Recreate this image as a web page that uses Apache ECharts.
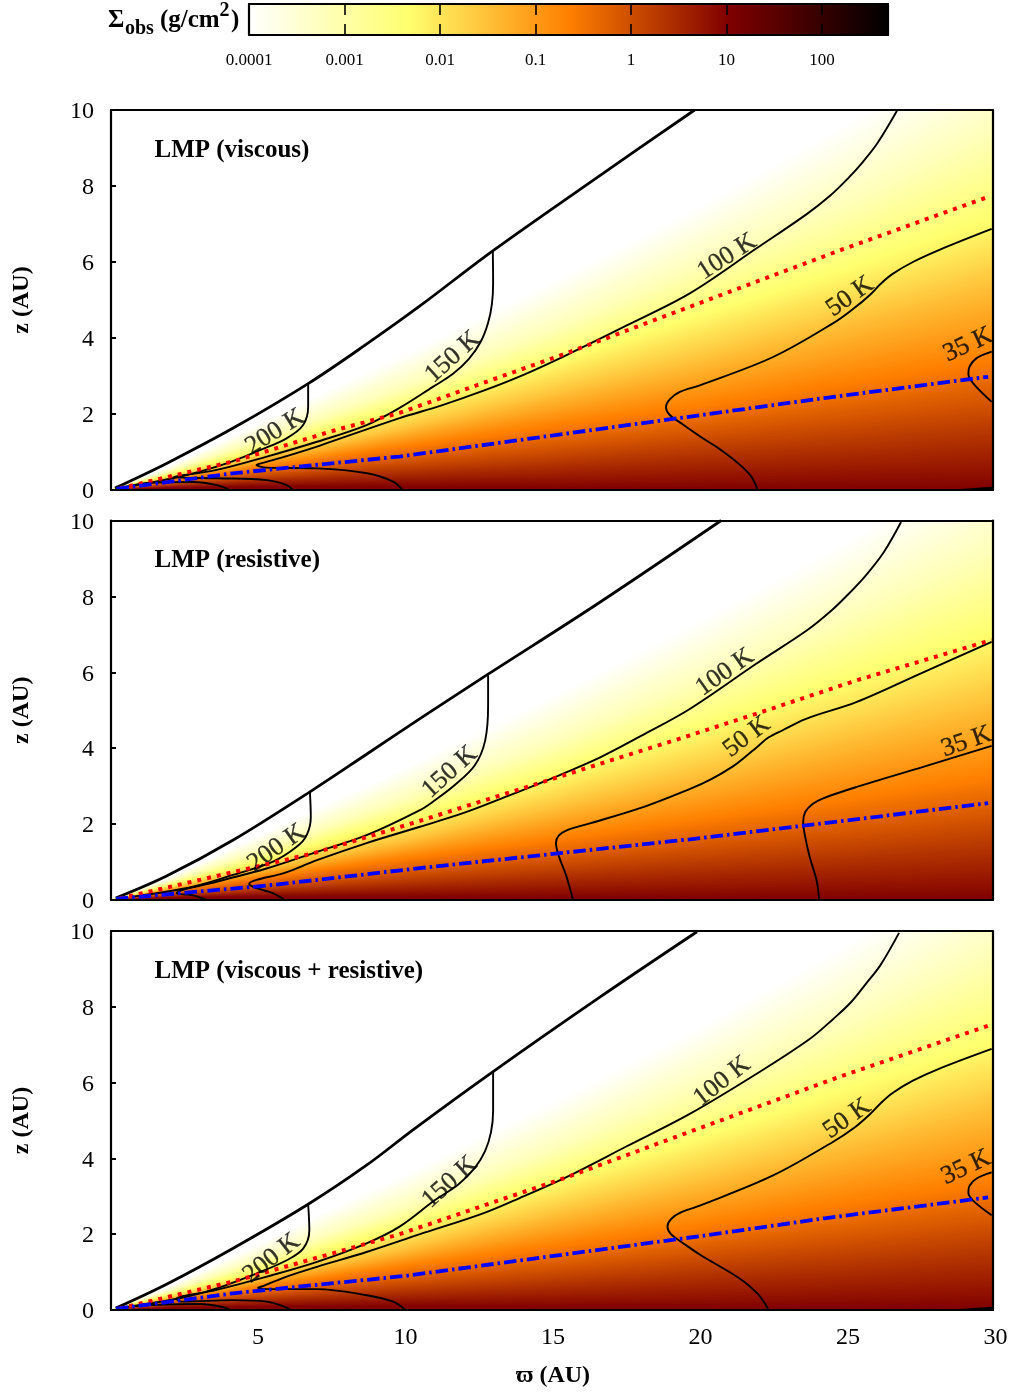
<!DOCTYPE html>
<html><head><meta charset="utf-8">
<style>html,body{margin:0;padding:0;background:#fff}#c{width:1013px;height:1393px}</style>
<script src="https://cdn.jsdelivr.net/npm/echarts@6/dist/echarts.min.js"></script>
</head><body><div id="c"></div>
<script>
// ---------- colour scale ----------
const paletteLogs = [-4, -2.3275, -0.655, 1.0175, 2.69];
const paletteRGB = [[255,255,255],[255,255,110],[255,128,0],[128,0,0],[0,0,0]];
const cbTickLogs = [-4,-3,-2,-1,0,1,2];
const cbTickLabels = ['0.0001','0.001','0.01','0.1','1','10','100'];
// ---------- iso-density curves: z (AU) at isoX, one row per log10(Sigma) ----------
const isoX = [0, 2, 5, 10, 15, 20, 25, 30];
const isoLogs = [-4, -3.16, -2.33, -1.49, -0.655, 0.18, 1.02];
const isoP1 = [
 [0,.62,1.75,3.6,5.5,7.5,9.7,12.0],
 [0,.48,1.3,2.7,4.2,5.9,7.5,9.4],
 [0,.4,1.05,2.2,3.4,4.65,5.85,7.2],
 [0,.3,.8,1.6,2.5,3.4,4.4,5.4],
 [0,.25,.6,1.15,1.7,2.25,2.85,3.5],
 [0,.14,.32,.6,.85,1.15,1.45,1.8],
 [0,.05,.08,.08,.05,.03,.02,.01]];
const isoP2 = [
 [0,.6,1.7,3.5,5.4,7.4,9.5,11.8],
 [0,.47,1.27,2.65,4.1,5.75,7.4,9.2],
 [0,.39,1.02,2.15,3.3,4.55,5.8,7.1],
 [0,.29,.78,1.55,2.4,3.3,4.25,5.2],
 [0,.24,.58,1.1,1.6,2.15,2.7,3.3],
 [0,.13,.3,.55,.8,1.08,1.35,1.7],
 [0,.05,.08,.07,.05,.03,.02,.01]];
const isoP3 = [
 [0,.62,1.75,3.6,5.5,7.5,9.7,12.0],
 [0,.48,1.3,2.7,4.2,5.9,7.5,9.4],
 [0,.4,1.05,2.2,3.4,4.6,5.85,7.15],
 [0,.3,.8,1.6,2.5,3.4,4.35,5.35],
 [0,.25,.6,1.15,1.7,2.25,2.85,3.45],
 [0,.14,.32,.6,.85,1.15,1.45,1.8],
 [0,.05,.08,.08,.05,.03,.02,.01]];
// ---------- panel 1 lines ----------
const surfP1 = [[.15,.05],[1.9,.7],[4.16,1.63],[6.7,2.8],[8.7,3.85],[10.5,4.85],[12.97,6.3],[16.6,8.28],[19.8,10]];
const redP1 = [[.3,.04],[4.15,.75],[7.55,1.56],[9.8,2.03],[15.46,3.6],[19.8,4.87],[24.7,6.3],[29.7,7.7]];
const blueP1 = [[.2,.03],[4.15,.44],[9.8,.88],[20,1.97],[24.2,2.42],[29.75,2.98]];
const t200P1 = [[6.7,2.8],[6.7,2.19],[6.53,1.71],[5.97,1.36],[5.07,1.05],[3.94,.7],[2.35,.35],[.19,.04]];
const t200bP1 = [[.77,.13],[1.34,.19],[2.8,.21],[3.6,.13],[4.05,0]];
const t150P1 = [[12.96,6.3],[12.97,5.44],[12.93,4.9],[12.8,4.4],[12.55,3.9],[12.15,3.45],[11.6,3.05],[10.94,2.72],[9.8,2.16],[8.68,1.71],[7,1.27],[5.3,.88],[3.6,.53],[2.12,.34],[3.6,.31],[5.3,.26],[5.97,.13],[6.18,0]];
const t100P1 = [[26.66,9.98],[26,9.13],[25.5,8.63],[25,8.2],[24.4,7.75],[23.6,7.26],[21.9,6.36],[19.65,5.18],[17.5,4.33],[15.46,3.55],[14,3.03],[12.6,2.6],[11.2,2.22],[9.8,1.89],[7.1,1.17],[6,.9],[5.2,.72],[4.95,.66],[5.3,.59],[7,.57],[8.7,.44],[9.58,.22],[9.9,0]];
const t50P1 = [[29.87,6.87],[28.1,6.32],[27.2,6],[26.5,5.68],[26.1,5.42],[25.75,5.14],[25.2,4.78],[24.5,4.39],[22.46,3.5],[20,2.76],[19.3,2.58],[18.95,2.38],[18.83,2.18],[18.95,1.98],[19.3,1.78],[20,1.4],[20.55,1.13],[21.25,.72],[21.7,.38],[21.88,.12],[21.92,0]];
const t35P1 = [[29.87,3.64],[29.36,3.47],[29.12,3.25],[29.08,3.05],[29.25,2.8],[29.87,2.32]];
const t35bP1 = [[28.8,0],[29.9,.06]];
const labP1 = [['200 K',5.58,1.53,32],['150 K',11.6,3.5,42],['100 K',20.9,6.14,33],['50 K',25.07,5.09,35],['35 K',29.07,3.82,25]];
// ---------- panel 2 lines ----------
const surfP2 = [[.18,.05],[1.9,.63],[4.16,1.58],[6.76,2.85],[8.68,3.84],[10.49,4.78],[12.8,5.95],[16.5,7.8],[20.7,10]];
const redP2 = [[.3,.04],[3.03,.53],[6.88,1.23],[10.26,2.03],[19.65,4.34],[21.9,4.91],[25.3,5.79],[29.87,6.85]];
const blueP2 = [[.18,.03],[5.3,.38],[10.49,.84],[19.65,1.6],[23.5,1.96],[29.75,2.55]];
const t200P2 = [[6.76,2.85],[6.79,2.19],[6.65,1.71],[6.31,1.4],[5.51,1.01],[4.15,.66],[2.8,.35],[.77,.09]];
const t150P2 = [[12.8,5.92],[12.8,5.13],[12.7,4.2],[12.35,3.55],[11.67,3.03],[11,2.63],[10.49,2.37],[8.68,1.71],[7,1.27],[5.29,.83],[3.6,.48],[2.24,.18],[2.8,.12],[3.26,0]];
const t100P2 = [[26.8,9.96],[26.2,9.15],[25.6,8.55],[25,8.05],[24.4,7.6],[23.6,7.1],[21.9,6.23],[19.65,5.04],[18,4.33],[16.6,3.76],[15,3.22],[13.5,2.75],[12,2.3],[10.49,1.93],[8.68,1.5],[7,1.05],[5.85,.7],[4.95,.53],[4.7,.42],[4.95,.31],[5.5,.18],[5.9,0]];
const t50P2 = [[29.87,6.8],[27.55,6],[25.3,5.22],[23.6,4.78],[22.8,4.48],[22.3,4.28],[21.9,4.02],[21.5,3.76],[21.1,3.52],[20.4,3.2],[19.65,2.93],[17.95,2.42],[16.25,2.02],[15.5,1.85],[15.2,1.7],[15.1,1.5],[15.2,1.15],[15.44,.66],[15.68,0]];
const t35P2 = [[29.87,4.06],[27.55,3.51],[25.3,2.98],[24.16,2.68],[23.8,2.53],[23.55,2.32],[23.48,2.05],[23.54,1.7],[23.7,1.14],[23.94,.5],[24.02,0]];
const labP2 = [['200 K',5.63,1.37,35],['150 K',11.5,3.37,42],['100 K',20.83,6,35],['50 K',21.57,4.3,37],['35 K',29.02,4.17,19]];
// ---------- panel 3 lines ----------
const surfP3 = [[.18,.05],[1.9,.68],[4.16,1.63],[6.7,2.79],[8.68,3.82],[10.3,4.78],[12.97,6.29],[16.6,8.26],[19.88,9.98]];
const redP3 = [[.3,.04],[4.15,.75],[7.55,1.5],[9.8,2],[15.46,3.5],[19.8,4.75],[24.7,6.15],[29.75,7.5]];
const blueP3 = [[.18,.03],[4.15,.44],[10,.9],[20,1.95],[24.2,2.42],[29.75,2.97]];
const t200P3 = [[6.7,2.79],[6.74,2.1],[6.53,1.62],[5.99,1.32],[4.97,.97],[3.6,.57],[2.35,.31],[.2,.04]];
const t200bP3 = [[.77,.1],[1.34,.13],[3.03,.16],[3.8,.08],[4.06,0]];
const t150P3 = [[12.97,6.29],[12.97,5.26],[12.9,4.7],[12.7,4.2],[12.35,3.75],[11.8,3.32],[11,2.9],[9.8,2.2],[8.68,1.76],[7,1.27],[5.3,.88],[3.6,.53],[2.24,.29],[2.41,.22],[4.16,.26],[5.3,.22],[5.85,.1],[6.12,0]];
const t100P3 = [[26.73,9.95],[26.1,9.1],[25.6,8.6],[25.1,8.12],[24.5,7.68],[23.7,7.15],[22,6.28],[19.65,5.18],[17.5,4.32],[15.44,3.5],[14,3],[12.63,2.55],[10.49,2],[8.68,1.53],[7,1.14],[5.97,.88],[5.17,.63],[5,.59],[5.3,.55],[7,.55],[8.68,.39],[9.58,.22],[10,0]];
const t50P3 = [[29.87,6.89],[28.1,6.37],[27.2,6.05],[26.5,5.72],[26.1,5.45],[25.75,5.17],[25.2,4.8],[24.5,4.44],[22.46,3.55],[20,2.76],[19.35,2.58],[19,2.4],[18.88,2.2],[19,2],[19.4,1.77],[20,1.45],[21.35,.82],[21.95,.42],[22.2,.15],[22.3,0]];
const t35P3 = [[29.87,3.63],[29.36,3.47],[29.12,3.28],[29.08,3.1],[29.25,2.88],[29.87,2.5]];
const t35bP3 = [[28.8,0],[29.9,.06]];
const labP3 = [['200 K',5.46,1.36,38],['150 K',11.5,3.37,42],['100 K',20.73,6.03,38],['50 K',24.97,5.05,35],['35 K',29,3.76,25]];
// ---------- text ----------
const panelTitles = ['LMP (viscous)','LMP (resistive)','LMP (viscous + resistive)'];
const xTickLabels = {5:'5',10:'10',15:'15',20:'20',25:'25',30:'30'};

const SERIF = '"Liberation Serif","Times New Roman",serif';
function colorAt(v){
  for(let i=0;i<paletteLogs.length-1;i++){
    if(v<=paletteLogs[i+1]){
      const t=(v-paletteLogs[i])/(paletteLogs[i+1]-paletteLogs[i]);
      const c=paletteRGB[i].map((a,j)=>Math.round(a+(paletteRGB[i+1][j]-a)*t));
      return `rgb(${c[0]},${c[1]},${c[2]})`;
    }
  }
  return 'rgb(0,0,0)';
}
const panels = [
 {top:110,h:380,iso:isoP1,surf:[surfP1],red:redP1,blue:blueP1,thin:[t200P1,t200bP1,t150P1,t100P1,t50P1,t35P1,t35bP1],lab:labP1},
 {top:520.5,h:379.5,iso:isoP2,surf:[surfP2],red:redP2,blue:blueP2,thin:[t200P2,t150P2,t100P2,t50P2,t35P2],lab:labP2},
 {top:931,h:379,iso:isoP3,surf:[surfP3],red:redP3,blue:blueP3,thin:[t200P3,t200bP3,t150P3,t100P3,t50P3,t35P3,t35bP3],lab:labP3}
];
const grid=[],xAxis=[],yAxis=[],series=[],graphic=[];
const frame={show:true,onZero:false,lineStyle:{color:'#000',width:2.2}};
function addAxes(g,xo,yo){
  grid.push(g);
  const gi=grid.length-1;
  const xi=xAxis.length, yi=yAxis.length;
  xAxis.push(Object.assign({gridIndex:gi,type:'value',position:'bottom',z:6,axisLine:frame,axisTick:{show:false},axisLabel:{show:false},splitLine:{show:false}},xo));
  xAxis.push(Object.assign({gridIndex:gi,type:'value',position:'top',z:6,axisLine:frame,axisTick:{show:false},axisLabel:{show:false},splitLine:{show:false}},xo,{name:null,axisLabel:{show:false}}));
  yAxis.push(Object.assign({gridIndex:gi,type:'value',position:'left',z:6,axisLine:frame,axisTick:{show:false},axisLabel:{show:false},splitLine:{show:false}},yo));
  yAxis.push({gridIndex:gi,type:'value',position:'right',z:6,min:yo.min,max:yo.max,axisLine:frame,axisTick:{show:false},axisLabel:{show:false},splitLine:{show:false}});
  return [xi,yi];
}
// colour bar
{
  const tick={show:true,inside:true,length:11,lineStyle:{color:'#000',width:1.6}};
  const [xi,yi]=addAxes({left:249,top:4,width:639,height:31},
    {min:-4,max:2.69,interval:1,axisTick:tick,
     axisLabel:{show:true,margin:17,fontFamily:SERIF,fontSize:17,color:'#000',
       formatter:v=>{const k=cbTickLogs.indexOf(v);return k>=0?cbTickLabels[k]:'';}}},
    {min:0,max:1});
  xAxis[xi+1].axisTick=tick;
  series.push({type:'custom',xAxisIndex:xi,yAxisIndex:yi,z:2,silent:true,data:[[paletteLogs[0],paletteLogs[4]]],
    renderItem(p,api){
      const a=api.coord([api.value(0),0]),b=api.coord([api.value(1),1]);
      return {type:'rect',shape:{x:a[0],y:b[1],width:b[0]-a[0],height:a[1]-b[1]},
        style:{fill:new echarts.graphic.LinearGradient(0,0,1,0,paletteLogs.map((l,i)=>({offset:(l-paletteLogs[0])/(paletteLogs[4]-paletteLogs[0]),color:colorAt(l)})))}};
    }});
}
// panels
const SUB=30;
panels.forEach((P,pi)=>{
  const [xi,yi]=addAxes({left:111,top:P.top,width:882,height:P.h},
    {min:0.017,max:29.915},
    {min:0,max:10,interval:2,name:'z (AU)',nameLocation:'middle',nameRotate:90,nameGap:77,
     nameTextStyle:{fontFamily:SERIF,fontWeight:'bold',fontSize:24,color:'#000'},
     axisTick:{show:true,inside:true,length:5,lineStyle:{color:'#000',width:2}},
     axisLabel:{show:true,margin:17,formatter:v=>'{a|'+v+'}',
       rich:{a:{fontFamily:SERIF,fontSize:24,color:'#000',padding:[4,0,0,0]}}}});
  // shading: polygons between read iso-density curves
  const bands=[];
  for(let k=0;k<P.iso.length-1;k++)for(let s=0;s<SUB;s++)bands.push([k,s/SUB]);
  bands.push([P.iso.length-2,1]);
  series.push({type:'custom',xAxisIndex:xi,yAxisIndex:yi,z:1,silent:true,clip:true,data:bands,
    renderItem(p,api){
      const k=api.value(0),t=api.value(1);
      const a=P.iso[k],b=P.iso[k+1];
      const pts=isoX.map((x,i)=>api.coord([x,a[i]+(b[i]-a[i])*t]));
      pts.push(api.coord([30,0]),api.coord([0,0]));
      return {type:'polygon',shape:{points:pts},style:{fill:colorAt(isoLogs[k]+(isoLogs[k+1]-isoLogs[k])*t)}};
    }});
  const line=(d,w,c,dash,sm)=>series.push({type:'line',xAxisIndex:xi,yAxisIndex:yi,z:3,silent:true,data:d,symbol:'none',smooth:sm,
    lineStyle:{color:c,width:w,type:dash||'solid',cap:'butt'},clip:true});
  P.surf.forEach(d=>line(d,2.8,'#000',null,0.35));
  P.thin.forEach(d=>line(d,1.9,'#000',null,0.35));
  line(P.red,4,'#f00',[4,6],false);
  line(P.blue,3.8,'#00f',[12.5,4,2.5,4],false);
  series.push({type:'scatter',xAxisIndex:xi,yAxisIndex:yi,z:4,silent:true,symbolSize:1,itemStyle:{color:'rgba(0,0,0,0)'},clip:false,
    data:P.lab.map(l=>({value:[l[1],l[2]],label:{show:true,position:'inside',formatter:l[0],rotate:l[3],
      fontFamily:SERIF,fontSize:26,color:'#000',textBorderColor:'#000',textBorderWidth:0.3}}))});
  graphic.push({type:'text',left:154.5,top:P.top+28,z:10,style:{text:panelTitles[pi],font:'bold 25px '+SERIF,fill:'#000'}});
});
// x tick labels, spanning 0-30 at the scale of the reference
{
  addAxes({left:110.5,top:1310,width:885,height:1},
   {min:0,max:30,interval:5,name:'\u03D6 (AU)',nameLocation:'middle',nameGap:53,
    nameTextStyle:{fontFamily:SERIF,fontWeight:'bold',fontSize:24,color:'#000'},
    axisLine:{show:false},
    axisLabel:{show:true,margin:15,fontFamily:SERIF,fontSize:24,color:'#000',formatter:v=>xTickLabels[v]||''}},
   {min:0,max:1,axisLine:{show:false}});
  const n=xAxis.length; xAxis[n-1].axisLine={show:false};
  yAxis[yAxis.length-1].axisLine={show:false};
}
// colour bar title
const tf='bold 25px '+SERIF;
graphic.push({type:'text',left:108,top:8,style:{text:'\u03A3',font:tf,fill:'#000'}});
graphic.push({type:'text',left:125,top:19,style:{text:'obs',font:'bold 20px '+SERIF,fill:'#000'}});
graphic.push({type:'text',left:160,top:8,style:{text:'(g/cm',font:tf,fill:'#000'}});
graphic.push({type:'text',left:219.5,top:1,style:{text:'2',font:'bold 20px '+SERIF,fill:'#000'}});
graphic.push({type:'text',left:231,top:8,style:{text:')',font:tf,fill:'#000'}});

const chart=echarts.init(document.getElementById('c'),null,{renderer:'canvas'});
chart.setOption({animation:false,backgroundColor:'#fff',grid,xAxis,yAxis,series,graphic});
</script></body></html>
